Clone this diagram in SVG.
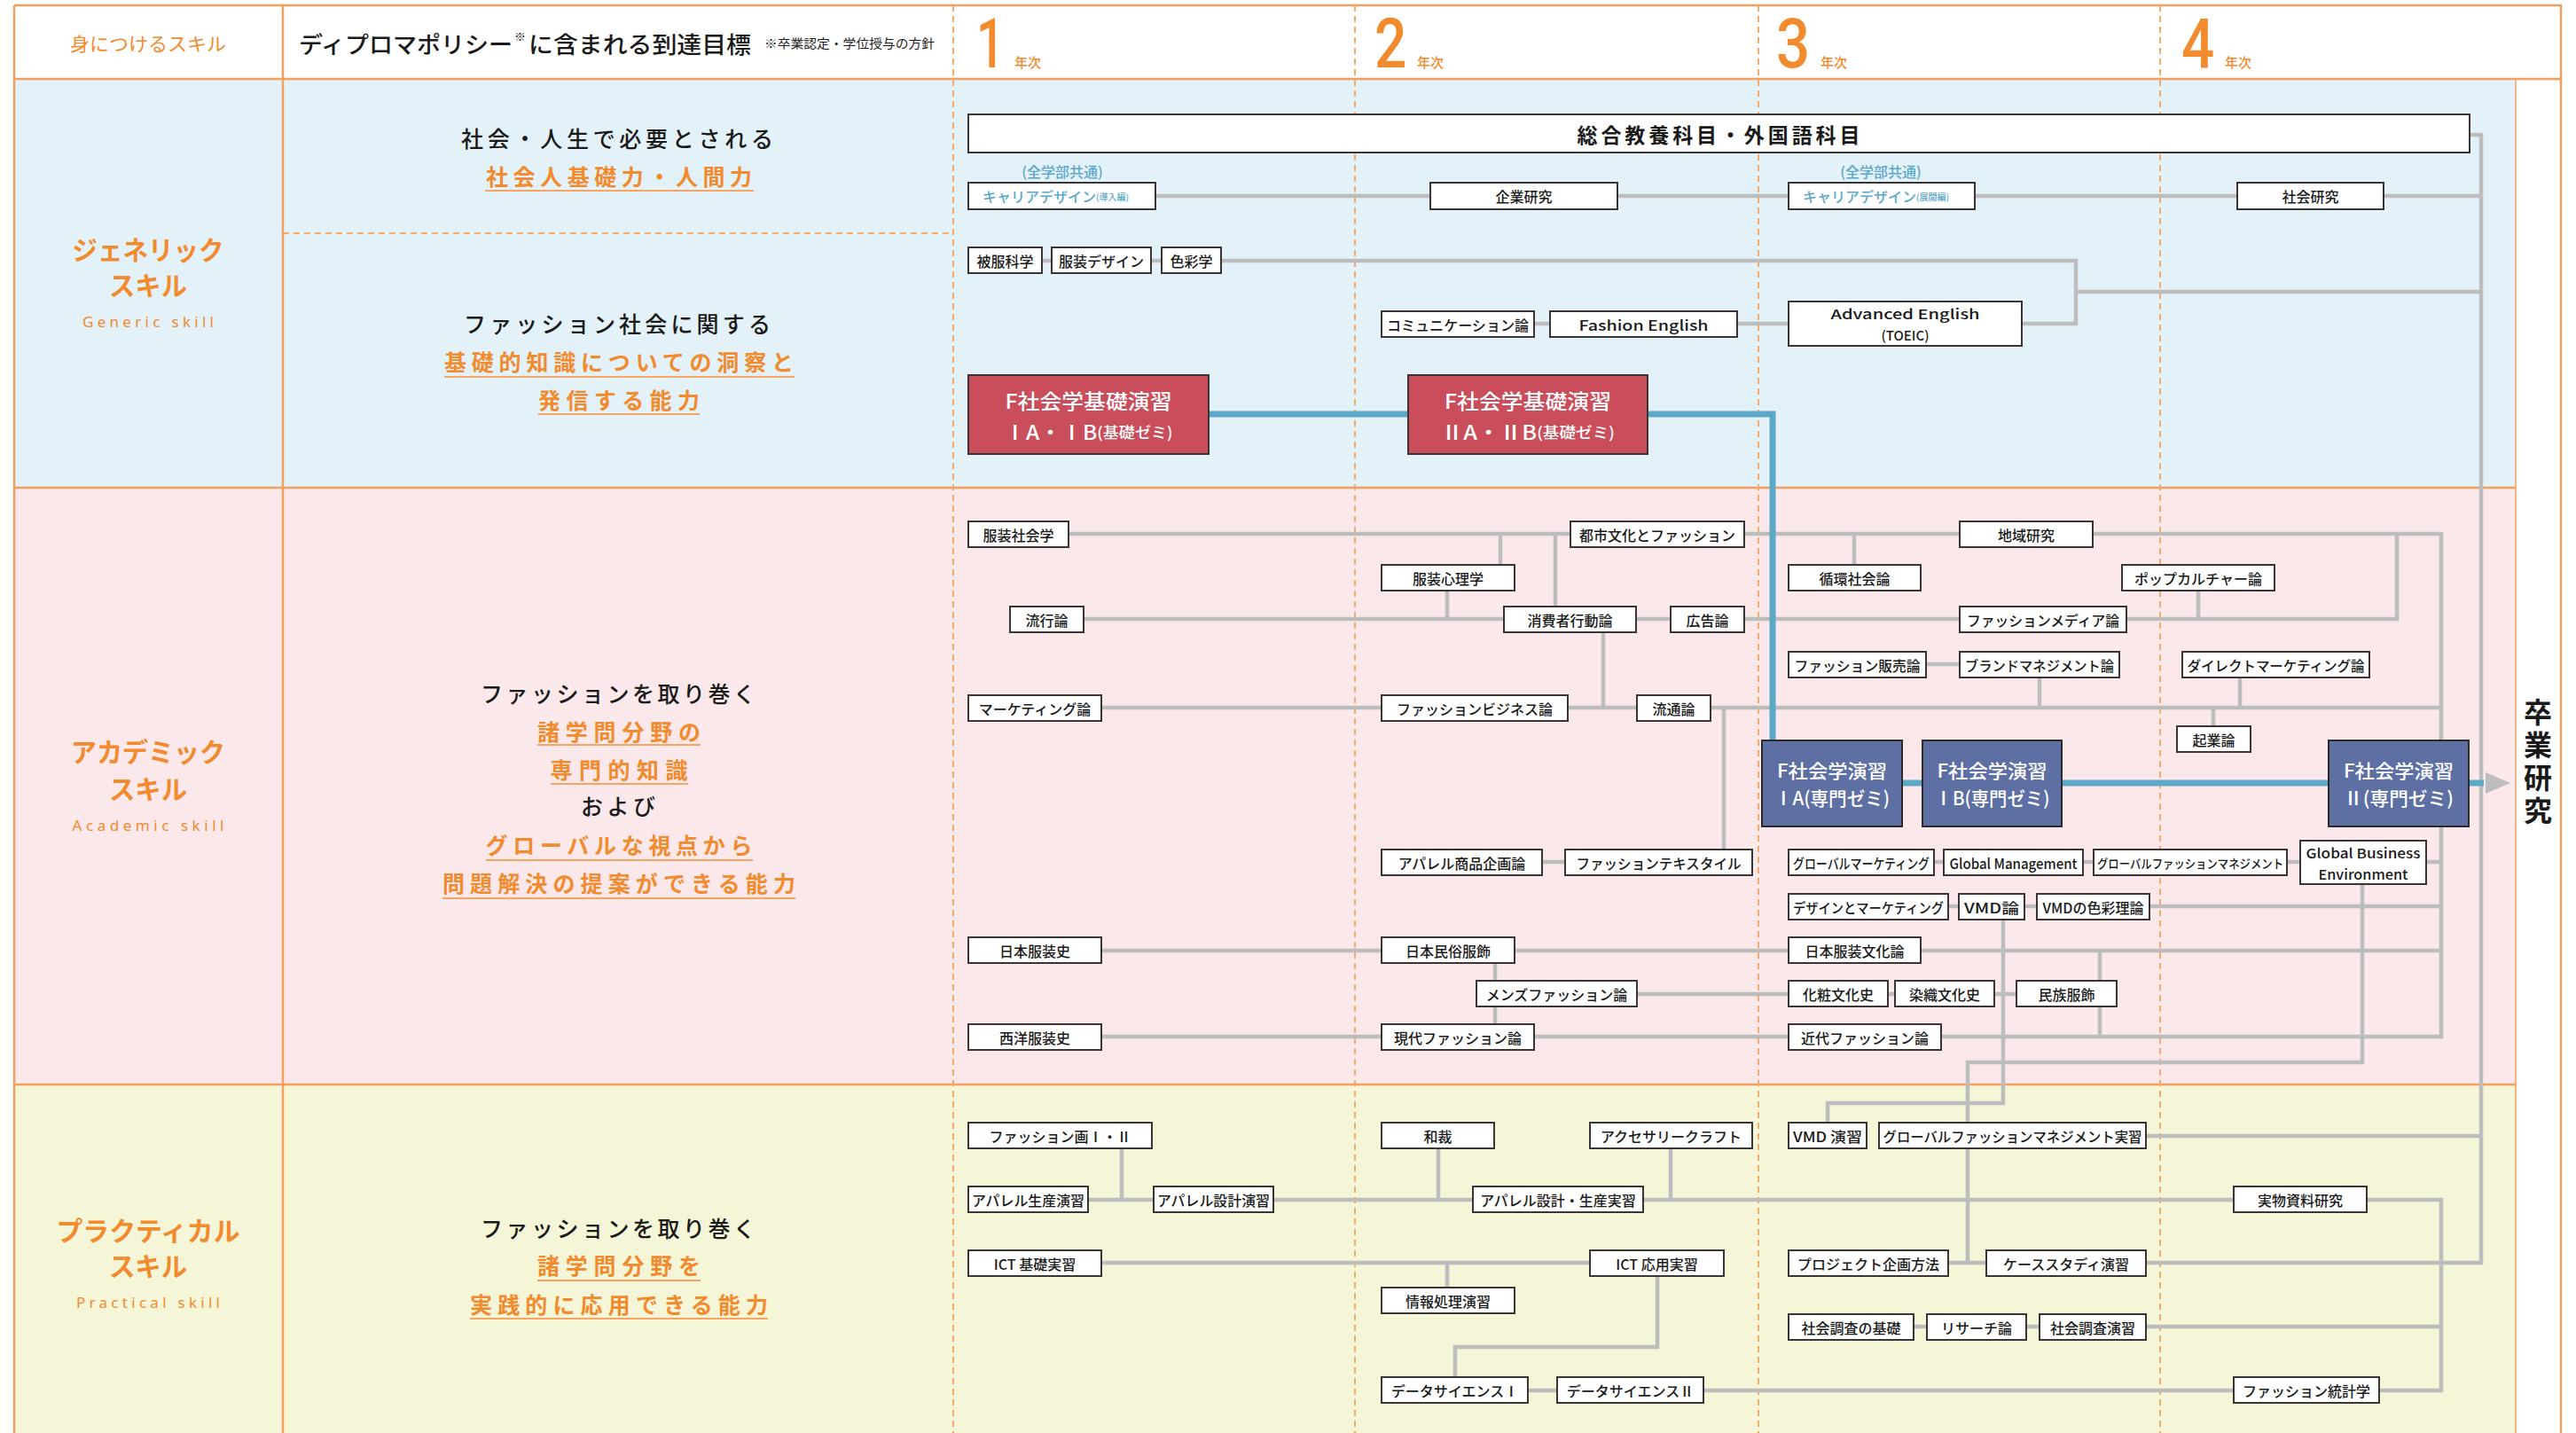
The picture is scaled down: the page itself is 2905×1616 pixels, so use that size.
<svg xmlns="http://www.w3.org/2000/svg" width="2905" height="1616" viewBox="0 0 2905 1616">
<style>
.bx{fill:#fff;stroke:#3b3434;stroke-width:2}
.nt{font-family:'Noto Sans CJK JP','Noto Sans',sans-serif;font-size:16px;font-weight:500;fill:#1a1a1a;text-anchor:middle;dominant-baseline:central}
.nts{font-family:'Noto Sans CJK JP','Noto Sans',sans-serif;font-size:15px;font-weight:500;fill:#1a1a1a;text-anchor:middle;dominant-baseline:central}
.ntx{font-family:'Noto Sans CJK JP','Noto Sans',sans-serif;font-size:14px;font-weight:500;fill:#1a1a1a;text-anchor:middle;dominant-baseline:central}
.big{font-family:'Noto Sans CJK JP','Noto Sans',sans-serif;font-size:23px;font-weight:700;fill:#1a1a1a;text-anchor:middle;dominant-baseline:central}
.wt{font-family:'Noto Sans CJK JP','Noto Sans',sans-serif;font-weight:500;fill:#fff;text-anchor:middle;dominant-baseline:central}
.red{fill:#C94D5A;stroke:#3b3434;stroke-width:2}
.blu{fill:#5E6FA4;stroke:#2e2a2a;stroke-width:2}
.bl{font-family:'Noto Sans CJK JP','Noto Sans',sans-serif;font-size:16px;font-weight:500;fill:#5BA8C8;dominant-baseline:central}
.dp{font-family:'Noto Sans CJK JP','Noto Sans',sans-serif;font-size:25px;font-weight:500;fill:#1a1a1a;text-anchor:middle;dominant-baseline:central}
.dpo{font-family:'Noto Sans CJK JP','Noto Sans',sans-serif;font-size:25px;font-weight:700;fill:#F28A2E;text-anchor:middle;dominant-baseline:central}
.ul{stroke:#F5A561;stroke-width:2;fill:none}
.sk{font-family:'Noto Sans CJK JP','Noto Sans',sans-serif;font-size:30px;font-weight:700;fill:#F28A2E;text-anchor:middle;dominant-baseline:central}
.ske{font-family:'Noto Sans','Liberation Sans',sans-serif;font-size:17px;fill:#F28A2E;text-anchor:middle;dominant-baseline:central}
.yr{font-family:Roboto,'Liberation Sans',sans-serif;font-size:78px;font-weight:500;fill:#F28A2E}
.yk{font-family:'Noto Sans CJK JP',sans-serif;font-size:15px;font-weight:500;fill:#F28A2E}
.frame{stroke:#F3A05F;stroke-width:2.5;fill:none}
.dash{stroke:#F5AB6C;stroke-width:2;stroke-dasharray:7 5;fill:none}
.gc{stroke:#BDBDBD;stroke-width:4.5;fill:none;stroke-linejoin:miter}
.bc{stroke:#5BA8C8;stroke-width:7;fill:none;stroke-linejoin:miter}
.sv{font-family:'Noto Sans CJK JP',sans-serif;font-size:32px;font-weight:700;fill:#1a1a1a;writing-mode:vertical-rl;letter-spacing:5px}
</style>
<g id="background">
<rect x="0" y="0" width="2905" height="1616" fill="#fff"/>
<rect x="16" y="89" width="2821" height="461" fill="#E3F1F8"/>
<rect x="16" y="550" width="2821" height="673" fill="#FAE8EA"/>
<rect x="16" y="1223" width="2821" height="393" fill="#F5F5D7"/>
</g>
<g id="frame">
<path class="frame" d="M16 6H2888V1616M16 6V1616M16 89H2888M16 550H2837M16 1223H2837M319 6V1616"/>
<path d="M2837 89V1616" stroke="#F3A05F" stroke-width="1.5"/>
<path class="dash" d="M1075 6V1616M1528 6V1616M1983 6V1616M2436 6V1616M319 263H1075"/>
</g>
<g id="header">
<text x="167" y="48" font-family="'Noto Sans CJK JP',sans-serif" font-size="21" fill="#F28A2E" text-anchor="middle" dominant-baseline="central" textLength="176" lengthAdjust="spacingAndGlyphs">身につけるスキル</text>
<text x="337" y="48" font-family="'Noto Sans CJK JP',sans-serif" font-size="26" font-weight="500" fill="#1a1a1a" dominant-baseline="central" textLength="241" lengthAdjust="spacingAndGlyphs">ディプロマポリシー</text>
<text x="580" y="40" font-family="'Noto Sans CJK JP',sans-serif" font-size="13" fill="#1a1a1a" dominant-baseline="central">※</text>
<text x="596" y="48" font-family="'Noto Sans CJK JP',sans-serif" font-size="26" font-weight="500" fill="#1a1a1a" dominant-baseline="central" textLength="251" lengthAdjust="spacingAndGlyphs">に含まれる到達目標</text>
<text x="862" y="48" font-family="'Noto Sans CJK JP',sans-serif" font-size="14" fill="#1a1a1a" dominant-baseline="central" textLength="192" lengthAdjust="spacingAndGlyphs">※卒業認定・学位授与の方針</text>
<text class="yr" transform="translate(1101 76) scale(0.72 1)">1</text><text class="yk" x="1144" y="76">年次</text>
<text class="yr" transform="translate(1550 76) scale(0.82 1)">2</text><text class="yk" x="1598" y="76">年次</text>
<text class="yr" transform="translate(2003 76) scale(0.86 1)">3</text><text class="yk" x="2053" y="76">年次</text>
<text class="yr" transform="translate(2460 76) scale(0.84 1)">4</text><text class="yk" x="2509" y="76">年次</text>
</g>
<g id="skills">
<text class="sk" x="167" y="280" textLength="171" lengthAdjust="spacingAndGlyphs">ジェネリック</text>
<text class="sk" x="167" y="320" textLength="88" lengthAdjust="spacingAndGlyphs">スキル</text>
<text class="ske" x="167" y="362" textLength="148" lengthAdjust="spacing">Generic skill</text>
<text class="sk" x="167" y="846" textLength="174" lengthAdjust="spacingAndGlyphs">アカデミック</text>
<text class="sk" x="167" y="888" textLength="88" lengthAdjust="spacingAndGlyphs">スキル</text>
<text class="ske" x="167" y="930" textLength="171" lengthAdjust="spacing">Academic skill</text>
<text class="sk" x="167" y="1386" textLength="207" lengthAdjust="spacingAndGlyphs">プラクティカル</text>
<text class="sk" x="167" y="1426" textLength="88" lengthAdjust="spacingAndGlyphs">スキル</text>
<text class="ske" x="167" y="1468" textLength="162" lengthAdjust="spacing">Practical skill</text>
</g>
<g id="diploma-policy">
<text class="dp" x="696" y="155" textLength="352" lengthAdjust="spacing">社会・人生で必要とされる</text>
<text class="dpo" x="698" y="198" textLength="300" lengthAdjust="spacing">社会人基礎力・人間力</text>
<path class="ul" d="M547 215H850"/>
<text class="dp" x="696" y="364" textLength="346" lengthAdjust="spacing">ファッション社会に関する</text>
<text class="dpo" x="698" y="407" textLength="394" lengthAdjust="spacing">基礎的知識についての洞察と</text>
<path class="ul" d="M501 425H896"/>
<text class="dpo" x="698" y="450" textLength="182" lengthAdjust="spacing">発信する能力</text>
<path class="ul" d="M607 467H789"/>
<text class="dp" x="697" y="781" textLength="310" lengthAdjust="spacing">ファッションを取り巻く</text>
<text class="dpo" x="698" y="824" textLength="184" lengthAdjust="spacing">諸学問分野の</text>
<path class="ul" d="M606 840H790"/>
<text class="dpo" x="698" y="867" textLength="155" lengthAdjust="spacing">専門的知識</text>
<path class="ul" d="M621 884H776"/>
<text class="dp" x="697" y="908" textLength="84" lengthAdjust="spacing">および</text>
<text class="dpo" x="698" y="952" textLength="301" lengthAdjust="spacing">グローバルな視点から</text>
<path class="ul" d="M548 970H849"/>
<text class="dpo" x="698" y="995" textLength="398" lengthAdjust="spacing">問題解決の提案ができる能力</text>
<path class="ul" d="M499 1013H897"/>
<text class="dp" x="697" y="1384" textLength="310" lengthAdjust="spacing">ファッションを取り巻く</text>
<text class="dpo" x="698" y="1426" textLength="184" lengthAdjust="spacing">諸学問分野を</text>
<path class="ul" d="M606 1444H790"/>
<text class="dpo" x="698" y="1470" textLength="336" lengthAdjust="spacing">実践的に応用できる能力</text>
<path class="ul" d="M530 1487H866"/>
</g>
<g id="connectors">
<path class="gc" d="M1303 221H1613M1824 221H2017M2227 221H2523M2688 221H2798M2785 152H2798V1424H2420M1175 294H1186M1298 294H1310M1377 294H2341V365H2280M2341 329H2798M1730 365H1748M1959 365H2017"/>
<path class="gc" d="M1205 602H1771M1967 602H2210M2360 602H2753V1169H2189M1692 602V637M1754 602V684M1632 666V698M1222 698H1696M1845 698H1884M1967 698H2210M2398 698H2703V602M2091 602V637M2479 666V698M1808 713V798M1242 798H1558M1768 798H1846M1929 798H2753M1944 798V958M2172 749H2210M2300 764V798M2526 764V798M2496 798V819"/>
<path class="gc" d="M1739 972H1765M2181 972H2192M2349 972H2361M2579 972H2594M2736 972H2753M2664 997V1198H2219V1424M2197 1022H2209M2283 1022H2297M2424 1022H2753M2259 1037V1244H2061V1266M1242 1072H1558M1708 1072H2017M2166 1072H2753M1686 1086V1155M2368 1072V1169M1846 1121H2017M2129 1121H2137M2249 1121H2274M1242 1169H1558M1730 1169H2017"/>
<path class="gc" d="M1265 1295V1353M1228 1353H1301M1437 1353H1661M1853 1353H2519M2669 1353H2753V1568H2683M1622 1295V1353M1884 1295V1353M2420 1281H2798M1242 1424H1793M2197 1424H2240M1632 1424V1452M1869 1439V1519H1641V1553M1723 1568H1756M1921 1568H2519M2158 1496H2173M2285 1496H2300M2420 1496H2753"/>
<path class="bc" d="M1363 467H1588M1858 467H1999V835M2145 883H2168M2325 883H2626M2784 883H2801"/>
<polygon points="2803,871 2831,883 2803,895" fill="#BDBDBD"/>
</g>
<g id="sotsugyo-kenkyu">
<text class="sv" x="2862" y="787">卒業研究</text>
</g>
<g id="n-sogo"><rect class="bx" x="1092" y="129" width="1693" height="43"/><text class="big" x="1938" y="151" textLength="319" lengthAdjust="spacing">総合教養科目・外国語科目</text></g>
<g id="n-zengaku1"><text class="bl" x="1198" y="193" text-anchor="middle">(全学部共通)</text></g>
<g id="n-career1"><rect class="bx" x="1092" y="206" width="211" height="30"/><text class="bl" x="1108" y="221">キャリアデザイン<tspan font-size="10">(導入編)</tspan></text></g>
<g id="n-kigyo"><rect class="bx" x="1613" y="206" width="211" height="30"/><text class="nt" x="1718.5" y="221">企業研究</text></g>
<g id="n-zengaku2"><text class="bl" x="2121" y="193" text-anchor="middle">(全学部共通)</text></g>
<g id="n-career2"><rect class="bx" x="2017" y="206" width="210" height="30"/><text class="bl" x="2033" y="221">キャリアデザイン<tspan font-size="10">(展開編)</tspan></text></g>
<g id="n-shakaikenkyu"><rect class="bx" x="2523" y="206" width="165" height="30"/><text class="nt" x="2605.5" y="221">社会研究</text></g>
<g id="n-hifuku"><rect class="bx" x="1092" y="279" width="83" height="29"/><text class="nt" x="1133.5" y="293.5">被服科学</text></g>
<g id="n-fukusodesign"><rect class="bx" x="1186" y="279" width="112" height="29"/><text class="nt" x="1242" y="293.5">服装デザイン</text></g>
<g id="n-shikisai"><rect class="bx" x="1310" y="279" width="67" height="29"/><text class="nt" x="1343.5" y="293.5">色彩学</text></g>
<g id="n-comm"><rect class="bx" x="1558" y="351" width="172" height="29"/><text class="nt" x="1644" y="365.5" textLength="160" lengthAdjust="spacingAndGlyphs">コミュニケーション論</text></g>
<g id="n-fashionenglish"><rect class="bx" x="1748" y="351" width="211" height="29"/><text class="nt" x="1853.5" y="365.5" textLength="146" lengthAdjust="spacingAndGlyphs">Fashion English</text></g>
<g id="n-advenglish"><rect class="bx" x="2017" y="340" width="263" height="50"/><text class="nts"><tspan x="2148.5" y="353" textLength="168" lengthAdjust="spacingAndGlyphs">Advanced English</tspan><tspan x="2148.5" y="377">(TOEIC)</tspan></text></g>
<g id="n-kisozemi1"><rect class="red" x="1092" y="423" width="271" height="89"/><text class="wt" x="1227.5" y="451" font-size="23" textLength="188" lengthAdjust="spacingAndGlyphs">F社会学基礎演習</text><text class="wt" x="1227.5" y="486" font-size="23" textLength="190" lengthAdjust="spacingAndGlyphs">ⅠA・ⅠB<tspan font-size="17">(基礎ゼミ)</tspan></text></g>
<g id="n-kisozemi2"><rect class="red" x="1588" y="423" width="270" height="89"/><text class="wt" x="1723" y="451" font-size="23" textLength="188" lengthAdjust="spacingAndGlyphs">F社会学基礎演習</text><text class="wt" x="1723" y="486" font-size="23" textLength="196" lengthAdjust="spacingAndGlyphs">ⅡA・ⅡB<tspan font-size="17">(基礎ゼミ)</tspan></text></g>
<g id="n-fukusoshakai"><rect class="bx" x="1092" y="588" width="113" height="29"/><text class="nt" x="1148.5" y="602.5">服装社会学</text></g>
<g id="n-toshibunka"><rect class="bx" x="1771" y="588" width="196" height="29"/><text class="nt" x="1869" y="602.5">都市文化とファッション</text></g>
<g id="n-fukusoshinri"><rect class="bx" x="1558" y="637" width="150" height="29"/><text class="nt" x="1633" y="651.5">服装心理学</text></g>
<g id="n-ryuko"><rect class="bx" x="1139" y="684" width="83" height="29"/><text class="nt" x="1180.5" y="698.5">流行論</text></g>
<g id="n-shohisha"><rect class="bx" x="1696" y="684" width="149" height="29"/><text class="nt" x="1770.5" y="698.5">消費者行動論</text></g>
<g id="n-kokoku"><rect class="bx" x="1884" y="684" width="83" height="29"/><text class="nt" x="1925.5" y="698.5">広告論</text></g>
<g id="n-marketing"><rect class="bx" x="1092" y="784" width="150" height="29"/><text class="nt" x="1167" y="798.5">マーケティング論</text></g>
<g id="n-fbusiness"><rect class="bx" x="1558" y="784" width="210" height="29"/><text class="nt" x="1663" y="798.5">ファッションビジネス論</text></g>
<g id="n-ryutsu"><rect class="bx" x="1846" y="784" width="83" height="29"/><text class="nt" x="1887.5" y="798.5">流通論</text></g>
<g id="n-apparelkikaku"><rect class="bx" x="1558" y="958" width="181" height="29"/><text class="nt" x="1648.5" y="972.5">アパレル商品企画論</text></g>
<g id="n-ftextile"><rect class="bx" x="1765" y="958" width="211" height="29"/><text class="nt" x="1870.5" y="972.5" textLength="186" lengthAdjust="spacingAndGlyphs">ファッションテキスタイル</text></g>
<g id="n-chiiki"><rect class="bx" x="2210" y="588" width="150" height="29"/><text class="nt" x="2285" y="602.5">地域研究</text></g>
<g id="n-junkan"><rect class="bx" x="2017" y="637" width="149" height="29"/><text class="nt" x="2091.5" y="651.5">循環社会論</text></g>
<g id="n-popculture"><rect class="bx" x="2393" y="637" width="172" height="29"/><text class="nt" x="2479" y="651.5">ポップカルチャー論</text></g>
<g id="n-fmedia"><rect class="bx" x="2210" y="684" width="188" height="29"/><text class="nt" x="2304" y="698.5" textLength="172" lengthAdjust="spacingAndGlyphs">ファッションメディア論</text></g>
<g id="n-fhanbai"><rect class="bx" x="2017" y="735" width="155" height="29"/><text class="nt" x="2094.5" y="749.5" textLength="142" lengthAdjust="spacingAndGlyphs">ファッション販売論</text></g>
<g id="n-brand"><rect class="bx" x="2210" y="735" width="180" height="29"/><text class="nt" x="2300" y="749.5" textLength="168" lengthAdjust="spacingAndGlyphs">ブランドマネジメント論</text></g>
<g id="n-direct"><rect class="bx" x="2461" y="735" width="211" height="29"/><text class="nt" x="2566.5" y="749.5" textLength="200" lengthAdjust="spacingAndGlyphs">ダイレクトマーケティング論</text></g>
<g id="n-kigyoron"><rect class="bx" x="2455" y="819" width="83" height="29"/><text class="nt" x="2496.5" y="833.5">起業論</text></g>
<g id="n-zemi1a"><rect class="blu" x="1987" y="835" width="158" height="97"/><text class="wt" x="2066" y="868" font-size="21" textLength="124" lengthAdjust="spacingAndGlyphs">F社会学演習</text><text class="wt" x="2066" y="899" font-size="21" textLength="130" lengthAdjust="spacingAndGlyphs">ⅠA(専門ゼミ)</text></g>
<g id="n-zemi1b"><rect class="blu" x="2168" y="835" width="157" height="97"/><text class="wt" x="2246.5" y="868" font-size="21" textLength="124" lengthAdjust="spacingAndGlyphs">F社会学演習</text><text class="wt" x="2246.5" y="899" font-size="21" textLength="130" lengthAdjust="spacingAndGlyphs">ⅠB(専門ゼミ)</text></g>
<g id="n-zemi2"><rect class="blu" x="2626" y="835" width="158" height="97"/><text class="wt" x="2705" y="868" font-size="21" textLength="124" lengthAdjust="spacingAndGlyphs">F社会学演習</text><text class="wt" x="2705" y="899" font-size="21" textLength="124" lengthAdjust="spacingAndGlyphs">Ⅱ(専門ゼミ)</text></g>
<g id="n-globalmkt"><rect class="bx" x="2017" y="958" width="164" height="29"/><text class="nt" x="2099" y="972.5" textLength="154" lengthAdjust="spacingAndGlyphs">グローバルマーケティング</text></g>
<g id="n-globalmgmt"><rect class="bx" x="2192" y="958" width="157" height="29"/><text class="nt" x="2270.5" y="972.5" textLength="144" lengthAdjust="spacingAndGlyphs">Global Management</text></g>
<g id="n-gfm"><rect class="bx" x="2361" y="958" width="218" height="29"/><text class="ntx" x="2470" y="972.5" textLength="210" lengthAdjust="spacingAndGlyphs">グローバルファッションマネジメント</text></g>
<g id="n-gbe"><rect class="bx" x="2594" y="948" width="142" height="49"/><text class="nts"><tspan x="2665" y="960.5" textLength="129" lengthAdjust="spacingAndGlyphs">Global Business</tspan><tspan x="2665" y="984.5" textLength="101" lengthAdjust="spacingAndGlyphs">Environment</tspan></text></g>
<g id="n-designmkt"><rect class="bx" x="2017" y="1008" width="180" height="29"/><text class="nt" x="2107" y="1022.5" textLength="170" lengthAdjust="spacingAndGlyphs">デザインとマーケティング</text></g>
<g id="n-vmd"><rect class="bx" x="2209" y="1008" width="74" height="29"/><text class="nt" x="2246" y="1022.5" textLength="62" lengthAdjust="spacingAndGlyphs">VMD論</text></g>
<g id="n-vmdcolor"><rect class="bx" x="2297" y="1008" width="127" height="29"/><text class="nt" x="2360.5" y="1022.5" textLength="114" lengthAdjust="spacingAndGlyphs">VMDの色彩理論</text></g>
<g id="n-nihonfukusoshi"><rect class="bx" x="1092" y="1057" width="150" height="29"/><text class="nt" x="1167" y="1071.5">日本服装史</text></g>
<g id="n-minzoku"><rect class="bx" x="1558" y="1057" width="150" height="29"/><text class="nt" x="1633" y="1071.5">日本民俗服飾</text></g>
<g id="n-nihonbunka"><rect class="bx" x="2017" y="1057" width="149" height="29"/><text class="nt" x="2091.5" y="1071.5">日本服装文化論</text></g>
<g id="n-mens"><rect class="bx" x="1665" y="1106" width="181" height="29"/><text class="nt" x="1755.5" y="1120.5">メンズファッション論</text></g>
<g id="n-kesho"><rect class="bx" x="2017" y="1106" width="112" height="29"/><text class="nt" x="2073" y="1120.5">化粧文化史</text></g>
<g id="n-senshoku"><rect class="bx" x="2137" y="1106" width="112" height="29"/><text class="nt" x="2193" y="1120.5">染織文化史</text></g>
<g id="n-minzokufukushoku"><rect class="bx" x="2274" y="1106" width="113" height="29"/><text class="nt" x="2330.5" y="1120.5">民族服飾</text></g>
<g id="n-seiyo"><rect class="bx" x="1092" y="1155" width="150" height="29"/><text class="nt" x="1167" y="1169.5">西洋服装史</text></g>
<g id="n-gendai"><rect class="bx" x="1558" y="1155" width="172" height="29"/><text class="nt" x="1644" y="1169.5">現代ファッション論</text></g>
<g id="n-kindai"><rect class="bx" x="2017" y="1155" width="172" height="29"/><text class="nt" x="2103" y="1169.5">近代ファッション論</text></g>
<g id="n-fashionga"><rect class="bx" x="1092" y="1266" width="207" height="29"/><text class="nt" x="1195.5" y="1280.5">ファッション画Ⅰ・Ⅱ</text></g>
<g id="n-seisan"><rect class="bx" x="1092" y="1338" width="135" height="29"/><text class="nt" x="1159.5" y="1352.5" textLength="127" lengthAdjust="spacingAndGlyphs">アパレル生産演習</text></g>
<g id="n-sekkei"><rect class="bx" x="1301" y="1338" width="135" height="29"/><text class="nt" x="1368.5" y="1352.5" textLength="127" lengthAdjust="spacingAndGlyphs">アパレル設計演習</text></g>
<g id="n-wasai"><rect class="bx" x="1558" y="1266" width="127" height="29"/><text class="nt" x="1621.5" y="1280.5">和裁</text></g>
<g id="n-accessory"><rect class="bx" x="1793" y="1266" width="183" height="29"/><text class="nt" x="1884.5" y="1280.5">アクセサリークラフト</text></g>
<g id="n-sekkeiseisan"><rect class="bx" x="1661" y="1338" width="192" height="29"/><text class="nt" x="1757" y="1352.5">アパレル設計・生産実習</text></g>
<g id="n-ictkiso"><rect class="bx" x="1092" y="1410" width="150" height="29"/><text class="nt" x="1167" y="1424.5">ICT 基礎実習</text></g>
<g id="n-ictoyo"><rect class="bx" x="1793" y="1410" width="151" height="29"/><text class="nt" x="1868.5" y="1424.5">ICT 応用実習</text></g>
<g id="n-joho"><rect class="bx" x="1558" y="1452" width="150" height="29"/><text class="nt" x="1633" y="1466.5">情報処理演習</text></g>
<g id="n-ds1"><rect class="bx" x="1558" y="1553" width="165" height="29"/><text class="nt" x="1640.5" y="1567.5">データサイエンスⅠ</text></g>
<g id="n-ds2"><rect class="bx" x="1756" y="1553" width="165" height="29"/><text class="nt" x="1838.5" y="1567.5">データサイエンスⅡ</text></g>
<g id="n-vmdenshu"><rect class="bx" x="2017" y="1266" width="88" height="29"/><text class="nt" x="2061" y="1280.5" textLength="78" lengthAdjust="spacingAndGlyphs">VMD 演習</text></g>
<g id="n-gfmjisshu"><rect class="bx" x="2119" y="1266" width="301" height="29"/><text class="nt" x="2269.5" y="1280.5" textLength="292" lengthAdjust="spacingAndGlyphs">グローバルファッションマネジメント実習</text></g>
<g id="n-jitsubutsu"><rect class="bx" x="2519" y="1338" width="150" height="29"/><text class="nt" x="2594" y="1352.5">実物資料研究</text></g>
<g id="n-project"><rect class="bx" x="2017" y="1410" width="180" height="29"/><text class="nt" x="2107" y="1424.5">プロジェクト企画方法</text></g>
<g id="n-casestudy"><rect class="bx" x="2240" y="1410" width="180" height="29"/><text class="nt" x="2330" y="1424.5">ケーススタディ演習</text></g>
<g id="n-chosakiso"><rect class="bx" x="2017" y="1482" width="141" height="29"/><text class="nt" x="2087.5" y="1496.5">社会調査の基礎</text></g>
<g id="n-research"><rect class="bx" x="2173" y="1482" width="112" height="29"/><text class="nt" x="2229" y="1496.5">リサーチ論</text></g>
<g id="n-chosaenshu"><rect class="bx" x="2300" y="1482" width="120" height="29"/><text class="nt" x="2360" y="1496.5">社会調査演習</text></g>
<g id="n-tokei"><rect class="bx" x="2519" y="1553" width="164" height="29"/><text class="nt" x="2601" y="1567.5">ファッション統計学</text></g>
</svg>
